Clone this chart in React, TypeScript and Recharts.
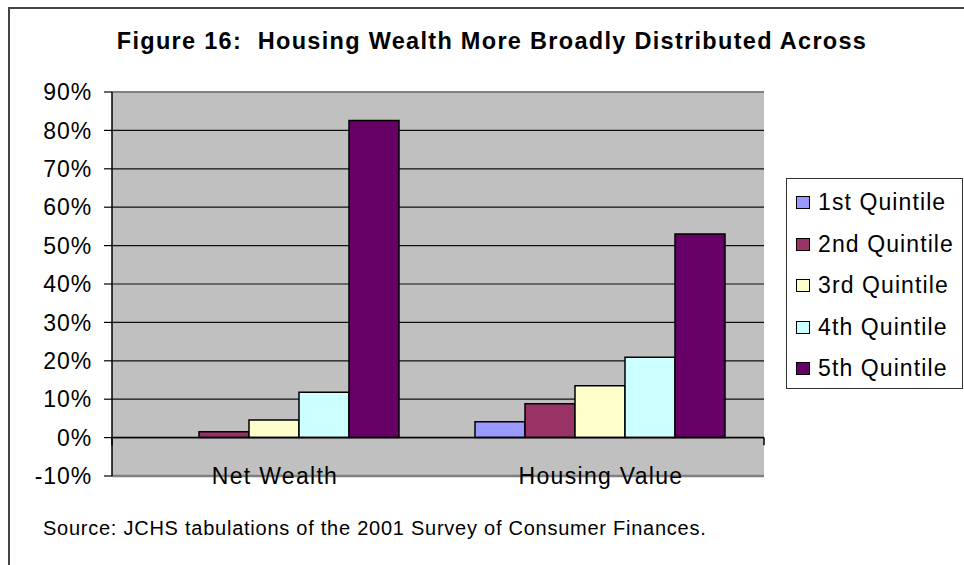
import React from 'react';
import { BarChart, Bar, XAxis, YAxis, CartesianGrid, ReferenceLine, Legend } from 'recharts';

const categories = ['Net Wealth', 'Housing Value'];
const quintileNames = ['1st Quintile', '2nd Quintile', '3rd Quintile', '4th Quintile', '5th Quintile'];
const quintile1 = [0, 4.1];
const quintile2 = [1.5, 8.8];
const quintile3 = [4.6, 13.5];
const quintile4 = [11.8, 20.9];
const quintile5 = [82.6, 53.0];
const yTicks = [-10, 0, 10, 20, 30, 40, 50, 60, 70, 80, 90];
const quintileColors = ['#9999FF', '#993366', '#FFFFCC', '#CCFFFF', '#660066'];

const titleText = 'Figure 16:  Housing Wealth More Broadly Distributed Across';
const sourceText = 'Source: JCHS tabulations of the 2001 Survey of Consumer Finances.';

const seriesValues = [quintile1, quintile2, quintile3, quintile4, quintile5];
const keys = ['q1', 'q2', 'q3', 'q4', 'q5'];

const data = categories.map((c, i) => {
  const row: any = { category: c };
  keys.forEach((k, s) => {
    row[k] = seriesValues[s][i];
  });
  return row;
});

const FONT = '"Liberation Sans", Arial, sans-serif';

const renderLegend = (props: any) => {
  const payload = props.payload || [];
  return (
    <div
      style={{
        border: '1.5px solid #333',
        background: '#fff',
        width: 177,
        height: 211,
        boxSizing: 'border-box',
        paddingTop: 3,
        fontFamily: FONT,
      }}
    >
      {payload.map((entry: any, i: number) => (
        <div key={i} style={{ height: 41.5, display: 'flex', alignItems: 'center' }}>
          <span
            style={{
              display: 'inline-block',
              width: 14,
              height: 13,
              background: entry.color,
              border: '1.5px solid #000',
              boxSizing: 'border-box',
              marginLeft: 9,
              marginRight: 8,
            }}
          />
          <span style={{ fontSize: 23, letterSpacing: 1.1, color: '#000', whiteSpace: 'pre' }}>{entry.value}</span>
        </div>
      ))}
    </div>
  );
};

export default function App() {
  return (
    <div style={{ position: 'absolute', left: 0, top: 0, width: 964, height: 565, background: '#fff', overflow: 'hidden' }}>
      <div
        style={{
          position: 'absolute',
          left: 8,
          top: 7,
          width: 980,
          height: 600,
          borderLeft: '2px solid #444',
          borderTop: '2px solid #444',
          boxSizing: 'border-box',
        }}
      />
      <BarChart
        width={964}
        height={565}
        data={data}
        margin={{ top: 92, right: 200, left: 32, bottom: 59 }}
        barCategoryGap={37}
        barGap={0}
      >
        <CartesianGrid vertical={false} stroke="#111" strokeWidth={1.2} fill="#C0C0C0" fillOpacity={1} />
        <XAxis
          xAxisId="cat"
          dataKey="category"
          axisLine={false}
          tickLine={false}
          tickSize={0}
          tickMargin={0}
          height={30}
          interval={0}
          tick={{ fontSize: 23, fill: '#000', fontFamily: FONT, letterSpacing: 1.3, dy: -8 }}
        />
        <XAxis xAxisId="num" type="number" domain={[0, 2]} hide />
        <YAxis
          domain={[-10, 90]}
          ticks={yTicks}
          interval={0}
          width={80}
          tickFormatter={(v: number) => `${v}%`}
          axisLine={{ stroke: '#000', strokeWidth: 1.5 }}
          tickLine={{ stroke: '#000', strokeWidth: 1.2 }}
          tickSize={8}
          tickMargin={12}
          tick={{ fontSize: 23, fill: '#000', fontFamily: FONT, letterSpacing: 0.9 }}
        />
        <ReferenceLine xAxisId="cat" y={90} stroke="#808080" strokeWidth={2} />
        <ReferenceLine xAxisId="cat" y={-10} stroke="#808080" strokeWidth={2.5} />
        <ReferenceLine xAxisId="num" x={2} stroke="#808080" strokeWidth={2.5} />
        <ReferenceLine xAxisId="cat" y={0} stroke="#000" strokeWidth={1.5} />
        <ReferenceLine xAxisId="num" segment={[{ x: 0, y: 0 }, { x: 0, y: -2 }]} stroke="#000" strokeWidth={1.5} />
        <ReferenceLine xAxisId="num" segment={[{ x: 1, y: 0 }, { x: 1, y: -2 }]} stroke="#000" strokeWidth={1.5} />
        <ReferenceLine xAxisId="num" segment={[{ x: 2, y: 0 }, { x: 2, y: -2 }]} stroke="#000" strokeWidth={1.5} />
        {keys.map((k, s) => (
          <Bar
            key={k}
            xAxisId="cat"
            dataKey={k}
            name={quintileNames[s]}
            fill={quintileColors[s]}
            stroke="#000"
            strokeWidth={1.5}
            isAnimationActive={false}
          />
        ))}
        <Legend
          layout="vertical"
          align="center"
          verticalAlign="middle"
          content={renderLegend}
          wrapperStyle={{ position: 'absolute', left: 786, top: 178, width: 177, height: 211 }}
        />
      </BarChart>
      <div
        style={{
          position: 'absolute',
          left: 0,
          top: 30,
          width: 984,
          textAlign: 'center',
          fontFamily: FONT,
          fontWeight: 'bold',
          fontSize: 23.5,
          lineHeight: '23.5px',
          letterSpacing: 1.3,
          whiteSpace: 'pre',
          color: '#000',
        }}
      >
        {titleText}
      </div>
      <div
        style={{
          position: 'absolute',
          left: 43,
          top: 518,
          fontFamily: FONT,
          fontSize: 20,
          lineHeight: '20px',
          letterSpacing: 0.75,
          whiteSpace: 'pre',
          color: '#000',
        }}
      >
        {sourceText}
      </div>
    </div>
  );
}
